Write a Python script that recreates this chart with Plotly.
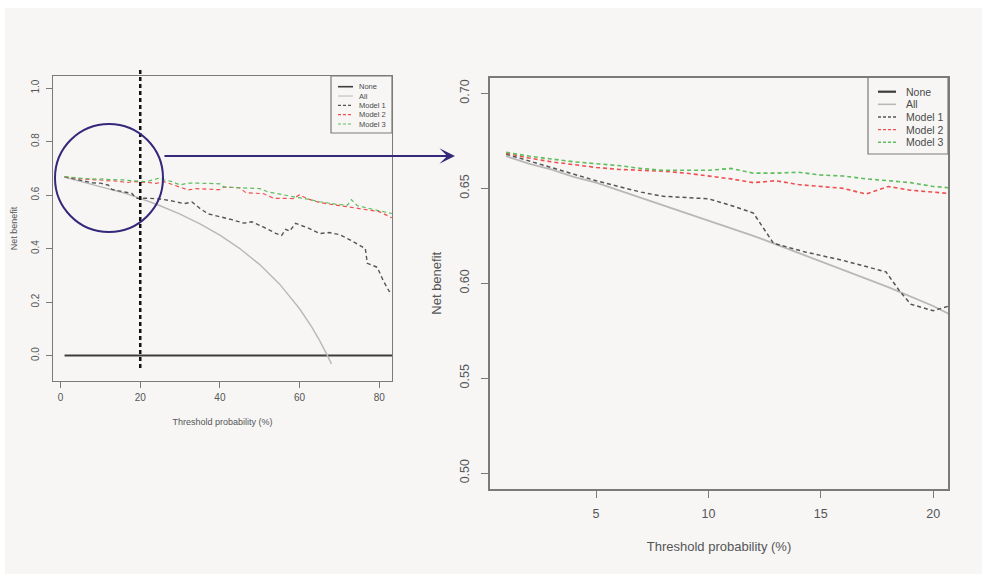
import plotly.graph_objects as go

W, H = 982, 574

# ---------------- data ----------------
none_x = [1, 83.2]
none_y = [0, 0]

all_x = [1, 2, 3, 4, 5, 6, 7, 8, 9, 10, 12, 14, 16, 18, 20, 21, 22.5, 25, 30, 35, 40, 45, 50, 55, 60, 63, 65, 67, 68]
all_y = [0.667, 0.663, 0.660, 0.656, 0.653, 0.649, 0.645, 0.641, 0.637, 0.633, 0.625, 0.616, 0.607, 0.598,
         0.588, 0.582, 0.574, 0.560, 0.529, 0.492, 0.450, 0.400, 0.340, 0.267, 0.175, 0.108, 0.057, 0.000, -0.031]

m1_x = [1, 2, 3, 4, 5, 6, 7, 8, 9, 10, 11, 12, 12.9, 14.3, 16, 17.9, 18.5, 19, 20, 20.7, 22, 25, 28, 31, 33,
        35, 37, 40, 43, 46, 48, 51, 54, 55.5, 56.5, 57.5, 59, 62, 65, 67.5, 70, 73, 75, 76.5, 77, 79.5, 81, 82.5, 83.2]
m1_y = [0.668, 0.6645, 0.661, 0.6575, 0.654, 0.651, 0.648, 0.6458, 0.645, 0.6445, 0.641, 0.637, 0.621, 0.6165,
        0.612, 0.606, 0.596, 0.589, 0.5855, 0.588, 0.588, 0.585, 0.578, 0.568, 0.574,
        0.550, 0.530, 0.520, 0.508, 0.495, 0.500, 0.480, 0.457, 0.449, 0.472, 0.465, 0.494, 0.478, 0.456, 0.460,
        0.452, 0.430, 0.412, 0.400, 0.345, 0.330, 0.280, 0.240, 0.240]

m2_x = [1, 2, 3, 4, 5, 6, 7, 8, 9, 10, 11, 12, 13, 14, 15, 16, 17, 18, 19, 20, 21, 22, 24, 26, 28, 30, 32, 34,
        37, 40, 41, 45, 46.5, 51, 53.5, 58.5, 60, 62, 65, 68, 72, 75, 80, 83.2]
m2_y = [0.6685, 0.666, 0.664, 0.6625, 0.661, 0.660, 0.6595, 0.659, 0.658, 0.6565, 0.655, 0.653, 0.654, 0.652,
        0.651, 0.650, 0.647, 0.651, 0.649, 0.648, 0.647, 0.647, 0.644, 0.650, 0.640, 0.630, 0.619, 0.624,
        0.622, 0.620, 0.630, 0.627, 0.609, 0.605, 0.588, 0.587, 0.601, 0.586, 0.572, 0.565, 0.558, 0.550, 0.538, 0.515]

m3_x = [1, 2, 3, 4, 5, 6, 7, 8, 9, 10, 11, 12, 13, 14, 15, 16, 17, 18, 19, 20, 21, 22, 24, 25, 26, 28, 30, 32,
        36, 40, 41, 45, 50, 52, 56, 59, 62, 65, 69, 72, 73, 74.5, 78, 80, 83.2]
m3_y = [0.669, 0.667, 0.6655, 0.664, 0.663, 0.662, 0.6605, 0.6595, 0.6595, 0.6595, 0.6605, 0.658, 0.658, 0.6585,
        0.657, 0.6565, 0.655, 0.654, 0.653, 0.651, 0.650, 0.652, 0.660, 0.664, 0.657, 0.650, 0.638, 0.645,
        0.644, 0.642, 0.630, 0.628, 0.624, 0.612, 0.600, 0.592, 0.585, 0.575, 0.566, 0.562, 0.583, 0.560,
        0.548, 0.541, 0.531]

series_names = ["None", "All", "Model 1", "Model 2", "Model 3"]
series_x = [none_x, all_x, m1_x, m2_x, m3_x]
series_y = [none_y, all_y, m1_y, m2_y, m3_y]

left_xticks = [0, 20, 40, 60, 80]
left_yticks = [0.0, 0.2, 0.4, 0.6, 0.8, 1.0]
left_ytext = ["0.0", "0.2", "0.4", "0.6", "0.8", "1.0"]
right_xticks = [5, 10, 15, 20]
right_yticks = [0.50, 0.55, 0.60, 0.65, 0.70]
right_ytext = ["0.50", "0.55", "0.60", "0.65", "0.70"]
cut_off = 20

# ---------------- styles ----------------
colors = ["#3c3c3c", "#b8b8b8", "#555555", "#ef4f4f", "#5cbf5c"]
dashes = ["solid", "solid", "4px,3px", "4px,3px", "4px,3px"]
widths_l = [2, 1.4, 1.4, 1.2, 1.2]
widths_r = [2, 1.8, 1.5, 1.6, 1.6]
FONT = "Liberation Sans, Arial, sans-serif"
TXT = "#555555"
AX = "#7a7a7a"
PURPLE = "#33287a"


def px(x):
    return x / W


def py(y):
    return 1 - y / H


fig = go.Figure()
for i, name in enumerate(series_names):
    fig.add_trace(go.Scatter(x=series_x[i], y=series_y[i], mode="lines", name=name, showlegend=False,
                             line=dict(color=colors[i], dash=dashes[i], width=widths_l[i]),
                             xaxis="x", yaxis="y"))
for i, name in enumerate(series_names):
    fig.add_trace(go.Scatter(x=series_x[i], y=series_y[i], mode="lines", name=name, showlegend=False,
                             line=dict(color=colors[i], dash=dashes[i], width=widths_r[i]),
                             xaxis="x2", yaxis="y2"))

axis_common = dict(showgrid=False, zeroline=False, showline=True, mirror=True, linecolor=AX,
                   ticks="outside", tickcolor=AX, automargin=False)

fig.update_layout(
    width=W, height=H,
    margin=dict(l=0, r=0, t=0, b=0),
    paper_bgcolor="#ffffff",
    plot_bgcolor="rgba(0,0,0,0)",
    showlegend=False,
    font=dict(family=FONT, color=TXT),
    xaxis=dict(domain=[px(53), px(392)], range=[-1.9, 83.2], anchor="y", tickvals=left_xticks,
               ticklen=6, ticklabelstandoff=1, linewidth=1.2, tickfont=dict(size=10, color=TXT),
               title=dict(text="Threshold probability (%)", font=dict(size=9, color=TXT), standoff=16),
               **axis_common),
    yaxis=dict(domain=[py(381), py(76)], range=[-0.095, 1.045], anchor="x", tickvals=left_yticks,
               ticktext=left_ytext, tickangle=-90, ticklen=6, ticklabelstandoff=3, linewidth=1.2,
               tickfont=dict(size=10, color=TXT),
               title=dict(text="Net benefit", font=dict(size=9, color=TXT), standoff=10),
               **axis_common),
    xaxis2=dict(domain=[px(490), px(948)], range=[0.28, 20.66], anchor="y2", tickvals=right_xticks,
                ticklen=7, ticklabelstandoff=5, linewidth=1.6, tickfont=dict(size=12.5, color=TXT),
                title=dict(text="Threshold probability (%)", font=dict(size=13, color=TXT), standoff=22),
                **axis_common),
    yaxis2=dict(domain=[py(489), py(77.5)], range=[0.4916, 0.7084], anchor="x2", tickvals=right_yticks,
                ticktext=right_ytext, tickangle=-90, ticklen=7, ticklabelstandoff=7, linewidth=1.6,
                tickfont=dict(size=12.5, color=TXT),
                title=dict(text="Net benefit", font=dict(size=13, color=TXT), standoff=14),
                **axis_common),
)

shapes = []
# background panel
shapes.append(dict(type="rect", xref="paper", yref="paper", x0=px(5), x1=1, y0=0, y1=py(8),
                   fillcolor="#f7f6f5", line=dict(width=0), layer="below"))
# cut-off dotted line (left plot)
shapes.append(dict(type="line", xref="x", yref="paper", x0=cut_off, x1=cut_off, y0=py(368), y1=py(67),
                   line=dict(color="#111111", width=2.5, dash="4px,3px")))
# circle highlighting zoom region
shapes.append(dict(type="circle", xref="paper", yref="paper", x0=px(55), x1=px(163), y0=py(232), y1=py(124),
                   line=dict(color=PURPLE, width=2)))

annotations = []
# arrow
annotations.append(dict(x=px(455), y=py(156), xref="paper", yref="paper", ax=-292, ay=0,
                        axref="pixel", ayref="pixel", text="", showarrow=True, arrowhead=3,
                        arrowsize=1.3, arrowwidth=2, arrowcolor=PURPLE))


def legend(box, sym_x, text_x, y0, dy, fsize, widths):
    bx0, by0, bx1, by1 = box
    shapes.append(dict(type="rect", xref="paper", yref="paper", x0=px(bx0), x1=px(bx1), y0=py(by1), y1=py(by0),
                       line=dict(color=AX, width=1.2), fillcolor="rgba(0,0,0,0)"))
    for i, name in enumerate(series_names):
        yy = y0 + i * dy
        shapes.append(dict(type="line", xref="paper", yref="paper", x0=px(sym_x[0]), x1=px(sym_x[1]),
                           y0=py(yy), y1=py(yy),
                           line=dict(color=colors[i], width=widths[i],
                                     dash="solid" if dashes[i] == "solid" else "3px,2px")))
        annotations.append(dict(x=px(text_x), y=py(yy), xref="paper", yref="paper", text=name,
                                showarrow=False, xanchor="left", yanchor="middle",
                                font=dict(size=fsize, color="#4a4a4a", family=FONT)))


legend((331, 76, 392, 133), (338, 353), 357, 86.7, 9.33, 7.5, [1.6, 1.0, 1.2, 1.2, 1.2])
legend((868, 77, 948, 154), (878, 896), 904, 91.7, 12.65, 10.5, [2.2, 1.6, 1.4, 1.4, 1.4])

fig.update_layout(shapes=shapes, annotations=annotations)
fig.write_html("out.html")
